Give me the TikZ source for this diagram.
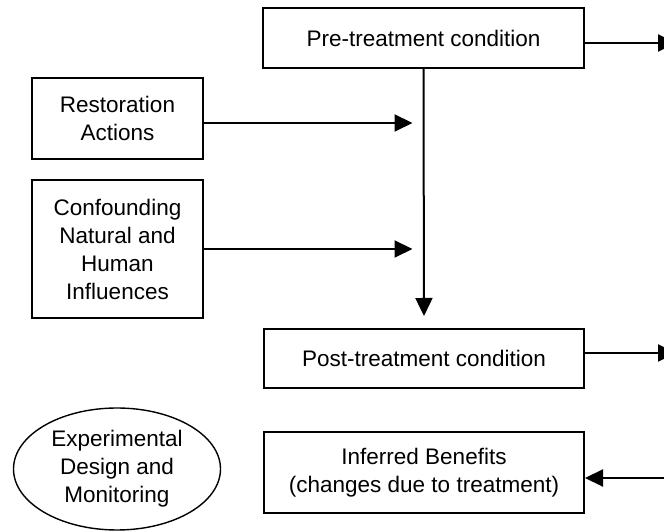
\documentclass[tikz,border=0pt]{standalone}
\usepackage{fontspec}
\setmainfont{Liberation Sans}
\usetikzlibrary{shapes.geometric, arrows.meta}

\tikzset{
  box/.style={draw, line width=2pt, align=center, inner sep=0pt},
  oval/.style={ellipse, draw, line width=1.4pt, align=center, inner sep=0pt},
  arr/.style={line width=2pt, -{Triangle[length=18pt,width=17pt]}},
}

\begin{document}
\begin{tikzpicture}[x=1pt,y=1pt,font=\fontsize{22.5}{28}\selectfont]
\useasboundingbox (0,0) rectangle (664,532);
	\node[box,minimum width=321pt,minimum height=60pt] (pre) at (423.5,494) {Pre-treatment condition};
	\node[box,minimum width=171pt,minimum height=81pt] (rest) at (117.5,413.5) {Restoration\\Actions};
	\node[box,minimum width=171pt,minimum height=138pt] (conf) at (117.5,283) {Confounding\\Natural and\\Human\\Influences};
	\node[box,minimum width=320pt,minimum height=59pt] (post) at (424,173.5) {Post-treatment condition};
	\node[box,minimum width=320pt,minimum height=81pt] (inf) at (424,59.5) {Inferred Benefits\\(changes due to treatment)};
	\node[oval,minimum width=207pt,minimum height=122pt] (exp) at (117,63) {Experimental\\Design and\\Monitoring};
	\coordinate (rim) at (676,0);
	\draw[arr,shorten >=12pt] (pre.south) -- (post.north);
	\draw[arr,shorten >=11pt] ([yshift=-4.5pt]rest.east) -- ([yshift=-4.5pt]rest.east -| pre.south);
	\draw[arr,shorten >=11pt] (conf.east) -- (conf.east -| pre.south);
	\draw[arr] ([yshift=-5pt]pre.east) -- ([yshift=-5pt]pre.east -| rim);
	\draw[arr] ([yshift=5.5pt]post.east) -- ([yshift=5.5pt]post.east -| rim);
	\draw[arr] ([yshift=-5.5pt]inf.east -| rim) -- ([yshift=-5.5pt]inf.east);
\end{tikzpicture}
\end{document}
